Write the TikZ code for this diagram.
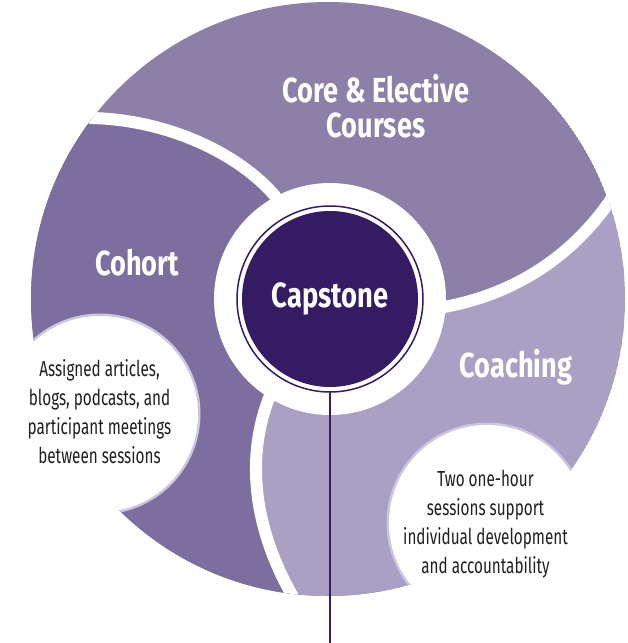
\documentclass[tikz,border=0pt]{standalone}
\usepackage{fontspec}
\newfontfamily\headfont[FakeStretch=0.78]{Fira Sans}
\newfontfamily\bodyfont[FakeStretch=0.70]{Fira Sans}
\definecolor{coreC}{RGB}{140,128,168}
\definecolor{cohortC}{RGB}{124,110,158}
\definecolor{coachC}{RGB}{169,160,196}
\definecolor{capC}{RGB}{52,27,100}
\definecolor{rimC}{RGB}{205,198,224}
\definecolor{bodyC}{RGB}{35,31,32}
\begin{document}
\begin{tikzpicture}[x=1pt,y=-1pt,
  head/.style={text=white, font=\headfont\bfseries\fontsize{34.8}{34.5}\selectfont, align=center, inner sep=0pt},
  body/.style={text=bodyC, font=\bodyfont\fontsize{21.8}{29}\selectfont, align=center, inner sep=0pt},
  gap/.style={white, line width=12pt},
  rim/.style={draw=rimC, line width=3pt},
  bubble/.style={fill=white}]
\useasboundingbox (0,0) rectangle (628,643);
\coordinate (O) at (328,299);
\coordinate (C) at (330,299);
\begin{scope}
  \clip (O) circle (297pt);
  \fill[coreC] (O) circle (297pt);
  \fill[cohortC] (C) -- (275,196) .. controls (240,155) and (170,120) .. (92,118) -- (40,90) -- (-20,90) -- (-20,660) -- (292,660) -- (292,595) .. controls (255,530) and (245,460) .. (269,398) -- cycle;
  \fill[coachC] (C) -- (269,398) .. controls (245,460) and (255,530) .. (292,595) -- (292,660) -- (660,660) -- (660,190) -- (612,198) .. controls (570,260) and (510,295) .. (444,307) -- cycle;
  \draw[gap] (C) -- (275,196) .. controls (240,155) and (170,120) .. (92,118) -- (60,112);
  \draw[gap] (C) -- (444,307) .. controls (510,295) and (570,260) .. (612,198) -- (630,172);
  \draw[gap] (C) -- (269,398) .. controls (245,460) and (255,530) .. (292,595) -- (296,620);
  \draw[rim] (100,414) circle (99pt);
  \draw[rim] (487,523) circle (99pt);
\end{scope}
\fill[bubble] (100,414) circle (98pt);
\fill[bubble] (487,523) circle (98pt);
\fill[white] (C) circle (116pt);
\node[head, circle, fill=capC, minimum size=176pt, outer sep=5pt, font=\headfont\bfseries\fontsize{35}{35}\selectfont] (capstone) at (C) {Capstone};
\draw[capC, line width=1.5pt] (capstone.center) circle (93pt);
\coordinate (lineEnd) at (330,643);
\draw[capC, line width=2.2pt] (capstone.south) -- (lineEnd);
\node[head] (core) at (376,106) {Core \& Elective\\Courses};
\node[head, anchor=base] (cohort) at (137,275) {Cohort};
\node[head, anchor=base] (coaching) at (516,377) {Coaching};
\node[body] (cohortText) at (99.5,412) {Assigned articles,\\blogs, podcasts, and\\participant meetings\\between sessions};
\node[body] (coachingText) at (485.5,524) {Two one-hour\\sessions support\\individual development\\and accountability};
\end{tikzpicture}
\end{document}
